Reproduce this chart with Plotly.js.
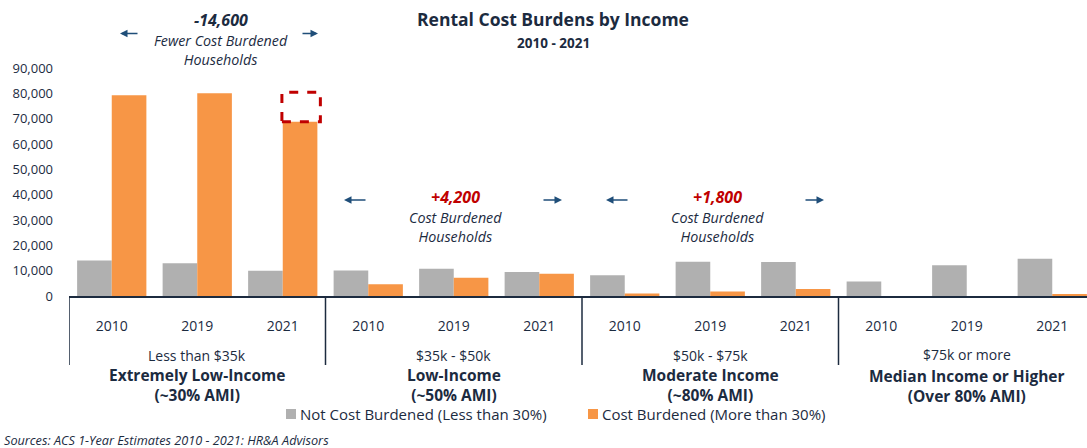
<!DOCTYPE html>
<html>
<head>
<meta charset="utf-8">
<script src="https://cdn.plot.ly/plotly-3.0.1.min.js"></script>
<style>html,body{margin:0;padding:0;background:#fff;}#chart{width:1087px;height:448px;}</style>
</head>
<body>
<div id="chart"></div>
<script>
// ---- data ----
const years = ['2010', '2019', '2021', '2010', '2019', '2021', '2010', '2019', '2021', '2010', '2019', '2021'];
const incomeRanges = ['Less than $35k', '$35k - $50k', '$50k - $75k', '$75k or more'];
const groupNames = ['Extremely Low-Income', 'Low-Income', 'Moderate Income', 'Median Income or Higher'];
const groupAMI = ['(~30% AMI)', '(~50% AMI)', '(~80% AMI)', '(Over 80% AMI)'];
const seriesNames = ['Not Cost Burdened (Less than 30%)', 'Cost Burdened (More than 30%)'];
const notBurdened = [14000, 12900, 10000, 10100, 10800, 9500, 8200, 13500, 13400, 5700, 12100, 14700];
const burdened = [79200, 80000, 68800, 4600, 7200, 8800, 1000, 1800, 2800, 0, 0, 800];
const changeValues = ['-14,600', '+4,200', '+1,800'];
const changeLines = [['Fewer Cost Burdened', 'Households'], ['Cost Burdened', 'Households'], ['Cost Burdened', 'Households']];
const sourceText = 'Sources: ACS 1-Year Estimates 2010 - 2021: HR&A Advisors';

// ---- styling ----
const FONT = '"Open Sans", "DejaVu Sans", sans-serif';
const TXT = '#1C2B3F';
const GRAY = '#B0B0B0';
const ORANGE = '#F79646';
const RED = '#C00000';
const ARROW = '#1F4E79';

const W = 1087, H = 448;
const L = 69, T = 68, B = 152;
const plotW = W - L, plotH = H - T - B;
const bottomPx = T + plotH;
const px = x => (x - L) / plotW;           // pixel -> paper x
const py = y => (bottomPx - y) / plotH;    // pixel -> paper y

const xs = years.map((_, i) => i);

const traces = [
  {type: 'bar', x: xs, y: notBurdened, name: seriesNames[0], marker: {color: GRAY}, hoverinfo: 'y', showlegend: false},
  {type: 'bar', x: xs, y: burdened, name: seriesNames[1], marker: {color: ORANGE}, hoverinfo: 'y', showlegend: false}
];

const shapes = [];
const annotations = [];

// group separator lines
[-0.5, 2.5, 5.5, 8.5].forEach(x => {
  shapes.push({type: 'line', xref: 'x', yref: 'paper', x0: x, x1: x, y0: 0, y1: py(365),
    line: {color: TXT, width: 1.5}});
});

// group labels
for (let g = 0; g < 4; g++) {
  const cx = g * 3 + 1;
  annotations.push({xref: 'x', yref: 'paper', x: cx, y: py(355 - (g === 3 ? 1 : 0)), yanchor: 'middle', xanchor: 'center',
    text: incomeRanges[g], showarrow: false, borderpad: 0, font: {family: FONT, size: 14, color: TXT}});
  annotations.push({xref: 'x', yref: 'paper', x: cx, y: py(385 + (g === 3 ? 0.5 : 0)), yanchor: 'middle', xanchor: 'center',
    text: '<b>' + groupNames[g] + '<br>' + groupAMI[g] + '</b>', showarrow: false, borderpad: 0,
    font: {family: FONT, size: 15.5, color: TXT}});
}

// dashed box showing the drop in cost burdened (2019 -> 2021, lowest group)
shapes.push({type: 'rect', xref: 'x', yref: 'y', x0: 1.99, x1: 2.44, y0: burdened[2], y1: burdened[1] + 400,
  line: {color: RED, width: 3, dash: 'dash'}, fillcolor: 'rgba(0,0,0,0)'});

// change callouts
const callouts = [
  {cx: 221, y0: 20, color: TXT, arrows: [[120, 139], [318, 301]], ay: 33.5},
  {cx: 455, y0: 197, color: RED, arrows: [[344, 367], [562, 542]], ay: 200},
  {cx: 717, y0: 197, color: RED, arrows: [[606, 629], [824, 804]], ay: 200}
];
callouts.forEach((c, i) => {
  annotations.push({xref: 'paper', yref: 'paper', x: px(c.cx), y: py(c.y0), xanchor: 'center', yanchor: 'middle',
    text: '<b><i>' + changeValues[i] + '</i></b>', showarrow: false, borderpad: 0, font: {family: FONT, size: 16, color: c.color}});
  annotations.push({xref: 'paper', yref: 'paper', x: px(c.cx), y: py(c.y0 + 30.25), xanchor: 'center', yanchor: 'middle',
    text: '<i>' + changeLines[i].join('<br>') + '</i>', showarrow: false, borderpad: 0,
    font: {family: FONT, size: 14.3, color: TXT}});
  c.arrows.forEach(([head, tail]) => {
    annotations.push({xref: 'paper', yref: 'paper', x: px(head), y: py(c.ay), ax: tail - head, ay: 0,
      text: '', showarrow: true, arrowhead: 2, arrowsize: 1, arrowwidth: 1.5, arrowcolor: ARROW});
  });
});

// subtitle
annotations.push({xref: 'paper', yref: 'paper', x: px(553), y: py(43), xanchor: 'center', yanchor: 'middle',
  text: '<b>2010 - 2021</b>', showarrow: false, borderpad: 0, font: {family: FONT, size: 13.5, color: TXT}});

// custom legend
const legendItems = [{sq: 286, tx: 299, color: GRAY}, {sq: 588, tx: 601, color: ORANGE}];
legendItems.forEach((it, i) => {
  shapes.push({type: 'rect', xref: 'paper', yref: 'paper', x0: px(it.sq), x1: px(it.sq + 10), y0: py(409), y1: py(419),
    line: {width: 0}, fillcolor: it.color});
  annotations.push({xref: 'paper', yref: 'paper', x: px(it.tx), y: py(414), xanchor: 'left', yanchor: 'middle',
    text: seriesNames[i], showarrow: false, borderpad: 0, font: {family: FONT, size: 15, color: TXT}});
});

// source
annotations.push({xref: 'paper', yref: 'paper', x: px(3), y: py(439.5), xanchor: 'left', yanchor: 'middle',
  text: '<i>' + sourceText + '</i>', showarrow: false, borderpad: 0, font: {family: FONT, size: 12.7, color: TXT}});

const layout = {
  width: W, height: H,
  margin: {l: L, r: 0, t: T, b: B, pad: 0},
  paper_bgcolor: '#fff', plot_bgcolor: '#fff',
  barmode: 'group', bargap: 0.19, bargroupgap: 0,
  title: {text: '<b>Rental Cost Burdens by Income</b>', x: 553 / W, xanchor: 'center', xref: 'container',
    y: 1 - 20 / H, yanchor: 'middle', yref: 'container', font: {family: FONT, size: 17.5, color: TXT}},
  xaxis: {range: [-0.5, -0.5 + plotW / 85.5], tickvals: xs, ticktext: years, showgrid: false, zeroline: false,
    showline: true, linecolor: TXT, linewidth: 1.5, ticks: '', ticklabelstandoff: 17,
    tickfont: {family: FONT, size: 14, color: TXT}, fixedrange: true},
  yaxis: {range: [0, 90000], dtick: 10000, tickformat: ',d', showgrid: false, zeroline: false, showline: false,
    ticks: '', ticklabelstandoff: 15, tickfont: {family: FONT, size: 13, color: TXT}, fixedrange: true},
  shapes: shapes,
  annotations: annotations,
  showlegend: false,
  font: {family: FONT, color: TXT}
};

Plotly.newPlot('chart', traces, layout, {displayModeBar: false, staticPlot: true});
</script>
</body>
</html>
